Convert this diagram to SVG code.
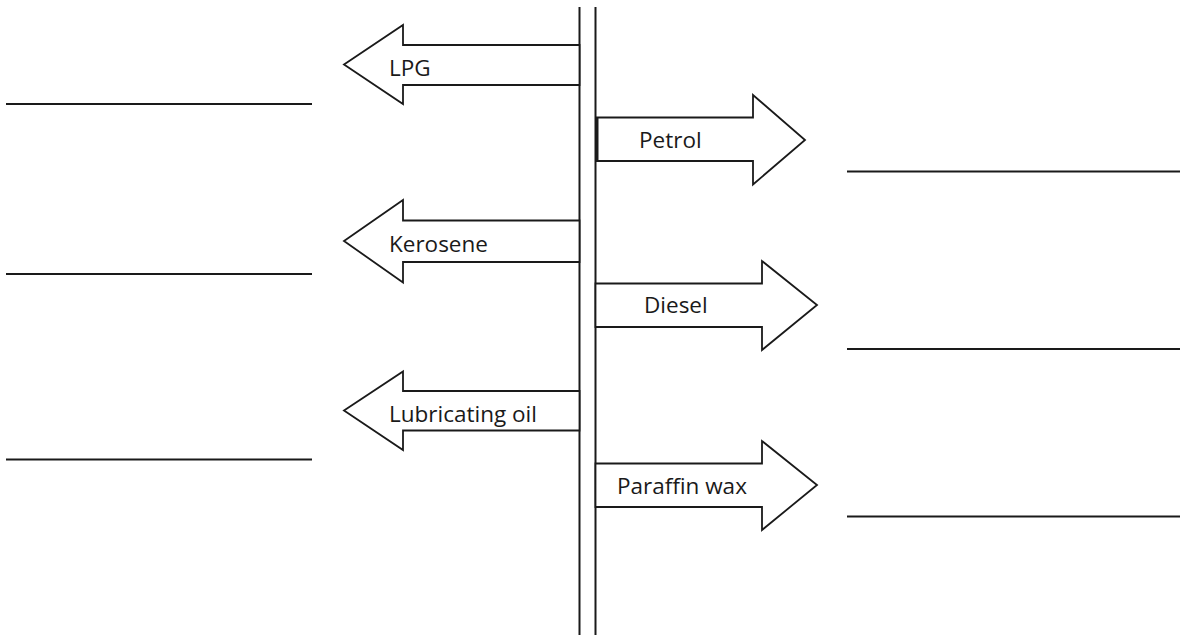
<svg xmlns="http://www.w3.org/2000/svg" width="1192" height="635" viewBox="0 0 1192 635">
<style>
.ln{stroke:#1a1a1a;stroke-width:2;fill:none}
.ar{stroke:#1a1a1a;stroke-width:1.8;fill:#fff;stroke-linejoin:miter}
.t{font-family:"Open Sans","Liberation Sans",sans-serif;font-size:22.5px;fill:#1a1a1a}
</style>
<rect width="1192" height="635" fill="#fff"/>
<g id="column">
<line class="ln" x1="579.5" y1="7" x2="579.5" y2="635"/>
<line class="ln" x1="595.5" y1="7" x2="595.5" y2="635"/>
</g>
<g id="lpg">
<polygon class="ar" points="579.5,45 403,45 403,25 344,64.5 403,104 403,85 579.5,85"/>
<text class="t" x="389" y="76">LPG</text>
</g>
<g id="petrol">
<polygon class="ar" points="596.5,117.5 753,117.5 753,95 805,140 753,184.5 753,161 596.5,161"/>
<line x1="597" y1="117.5" x2="597" y2="161" stroke="#1a1a1a" stroke-width="3"/>
<text class="t" x="639" y="148">Petrol</text>
</g>
<g id="kerosene">
<polygon class="ar" points="579.5,220.5 403,220.5 403,200 344,241 403,282.5 403,262 579.5,262"/>
<text class="t" x="389" y="252">Kerosene</text>
</g>
<g id="diesel">
<polygon class="ar" points="595.5,283.5 762,283.5 762,261 817,305 762,350 762,327 595.5,327"/>
<text class="t" x="644" y="313">Diesel</text>
</g>
<g id="lubricating">
<polygon class="ar" points="579.5,391 403,391 403,371.5 344,410.5 403,450 403,430.5 579.5,430.5"/>
<text class="t" x="389" y="422">Lubricating oil</text>
</g>
<g id="paraffin">
<polygon class="ar" points="595.5,463.5 762,463.5 762,441 817,485 762,530 762,507 595.5,507"/>
<text class="t" x="617" y="494">Paraffin wax</text>
</g>
<g id="answer-lines">
<line class="ln" x1="6" y1="104" x2="312" y2="104"/>
<line class="ln" x1="6" y1="274" x2="312" y2="274"/>
<line class="ln" x1="6" y1="459.5" x2="312" y2="459.5"/>
<line class="ln" x1="847" y1="171.5" x2="1180" y2="171.5"/>
<line class="ln" x1="847" y1="349" x2="1180" y2="349"/>
<line class="ln" x1="847" y1="516.5" x2="1180" y2="516.5"/>
</g>
</svg>
